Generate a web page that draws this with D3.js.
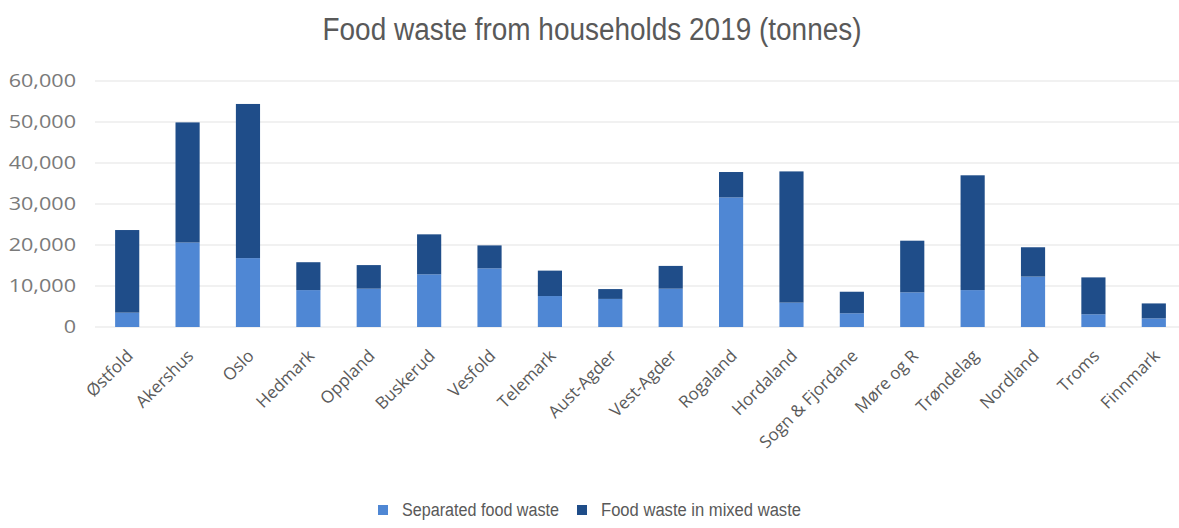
<!DOCTYPE html>
<meta charset="utf-8">
<style>
    body { margin: 0; background: #fff; }
    svg { display: block; }
</style>
<svg width="1179" height="528"></svg>
<script src="https://d3js.org/d3.v7.min.js"></script>
<script>
    // values (tonnes)
    const regions = ["Østfold", "Akershus", "Oslo", "Hedmark", "Oppland", "Buskerud", "Vesfold", "Telemark",
        "Aust-Agder", "Vest-Agder", "Rogaland", "Hordaland", "Sogn & Fjordane", "Møre og R", "Trøndelag",
        "Nordland", "Troms", "Finnmark"]
    const separated = [3500, 20600, 16800, 9000, 9350, 12850, 14300, 7550, 6850, 9350, 31600, 5950, 3350, 8450, 9000, 12300, 3100, 2100]
    const mixed = [20150, 29300, 37600, 6800, 5750, 9750, 5600, 6200, 2400, 5550, 6200, 32000, 5250, 12600, 28000, 7150, 9000, 3650]
    const yTicks = [0, 10000, 20000, 30000, 40000, 50000, 60000]
    const seriesNames = ["Separated food waste", "Food waste in mixed waste"]
    const colors = ["#4f87d4", "#1f4d89"]

    const svg = d3.select("svg")
    const narrow = "'Liberation Sans', Arial, sans-serif"
    const labelFont = "'Open Sans', 'DejaVu Sans', sans-serif"

    const x = d3.scaleBand().domain(regions).range([97, 1184]).paddingInner(0.6).paddingOuter(0.3)
    const y = d3.scaleLinear().domain([0, 60000]).range([327, 81])

    const rows = regions.map((r, i) => ({ region: r, separated: separated[i], mixed: mixed[i] }))
    const stacked = d3.stack().keys(["separated", "mixed"])(rows)

    // grid
    svg.append("g").selectAll("line").data(yTicks).join("line")
        .attr("x1", 95).attr("x2", 1179)
        .attr("y1", d => y(d)).attr("y2", d => y(d))
        .attr("stroke", "#e3e3e3").attr("stroke-width", 1.2)

    // y axis
    const yAxis = svg.append("g").attr("transform", "translate(76,0)")
        .call(d3.axisLeft(y).tickValues(yTicks).tickFormat(d3.format(",")).tickSize(0).tickPadding(0))
    yAxis.select(".domain").remove()
    yAxis.selectAll("text").attr("fill", "#7a7a7a")
        .attr("transform", "scale(1.2,1)")
        .style("font-family", labelFont).style("font-size", "18px")

    // bars
    svg.append("g").selectAll("g").data(stacked).join("g")
        .attr("fill", (d, i) => colors[i])
        .selectAll("rect").data(d => d).join("rect")
        .attr("x", d => x(d.data.region))
        .attr("width", x.bandwidth())
        .attr("y", d => y(d[1]))
        .attr("height", d => y(d[0]) - y(d[1]))

    // x labels
    svg.append("g").selectAll("text").data(regions).join("text")
        .attr("transform", d => `translate(${x(d) + x.bandwidth() / 2 + 7},357) rotate(-45)`)
        .attr("text-anchor", "end")
        .attr("fill", "#5a5a5a")
        .style("font-family", labelFont).style("font-size", "17px")
        .text(d => d)

    // title
    svg.append("text")
        .attr("x", 592).attr("y", 40)
        .attr("text-anchor", "middle")
        .attr("textLength", 539).attr("lengthAdjust", "spacingAndGlyphs")
        .attr("fill", "#595959")
        .style("font-family", narrow).style("font-size", "31px")
        .text("Food waste from households 2019 (tonnes)")

    // legend
    const legend = svg.append("g").attr("transform", "translate(378,505)")
    const lx = [0, 199]
    const lw = [157, 200]
    seriesNames.forEach((n, i) => {
        const g = legend.append("g").attr("transform", `translate(${lx[i]},0)`)
        g.append("rect").attr("width", 10).attr("height", 10).attr("fill", colors[i])
        g.append("text").attr("x", 24).attr("y", 11)
            .attr("textLength", lw[i]).attr("lengthAdjust", "spacingAndGlyphs")
            .attr("fill", "#595959")
            .style("font-family", narrow).style("font-size", "18px")
            .text(n)
    })
</script>
